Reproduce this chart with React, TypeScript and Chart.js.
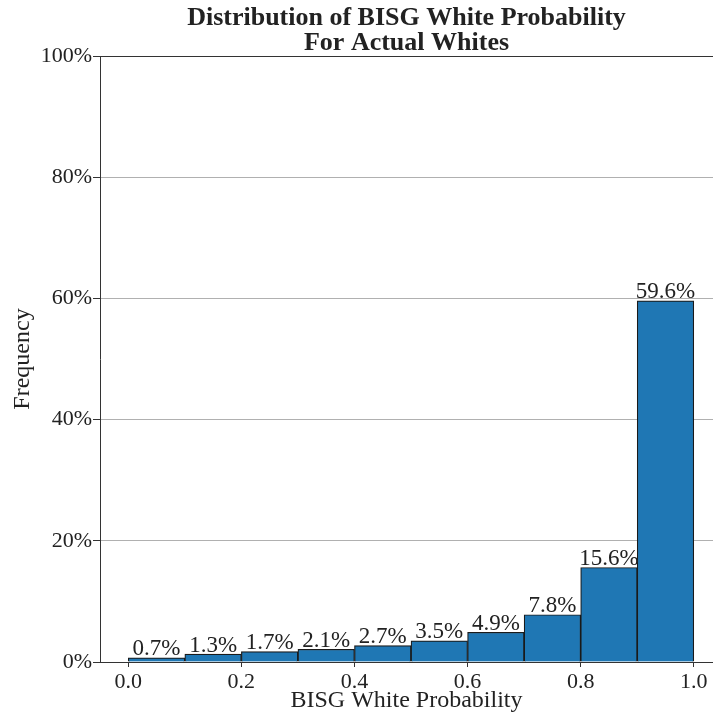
import React, { useEffect, useRef } from "react";
import { Chart, registerables } from "chart.js";

Chart.register(...registerables);

const binStarts = [0.0, 0.1, 0.2, 0.3, 0.4, 0.5, 0.6, 0.7, 0.8, 0.9];
const binWidth = 0.1;
const frequencies = [0.7, 1.3, 1.7, 2.1, 2.7, 3.5, 4.9, 7.8, 15.6, 59.6];
const xTicks = [0.0, 0.2, 0.4, 0.6, 0.8, 1.0];
const yTicks = [0, 20, 40, 60, 80, 100];
const titleLines = ["Distribution of BISG White Probability", "For Actual Whites"];

const FONT = "'Liberation Serif', 'DejaVu Serif', serif";

export default function App() {
  const ref = useRef<HTMLCanvasElement>(null);

  useEffect(() => {
    if (!ref.current) return;
    const labelPlugin = {
      id: "barLabels",
      afterDatasetsDraw(chart: any) {
        const ctx = chart.ctx;
        const meta = chart.getDatasetMeta(0);
        ctx.save();
        ctx.font = `23px ${FONT}`;
        ctx.fillStyle = "#222";
        ctx.textAlign = "center";
        ctx.textBaseline = "bottom";
        meta.data.forEach((el: any, i: number) => {
          ctx.fillText(frequencies[i].toFixed(1) + "%", el.x, el.y + 3);
        });
        ctx.restore();
      },
      afterDraw(chart: any) {
        const ctx = chart.ctx;
        const { left, right } = chart.chartArea;
        ctx.save();
        ctx.font = `bold 26px ${FONT}`;
        ctx.fillStyle = "#222";
        ctx.textAlign = "center";
        ctx.textBaseline = "middle";
        titleLines.forEach((t, i) => {
          ctx.fillText(t, (left + right) / 2, 18 + i * 25);
        });
        ctx.restore();
      },
    };

    const chart = new Chart(ref.current, {
      type: "bar",
      data: {
        datasets: [
          {
            data: binStarts.map((s, i) => ({ x: s + binWidth / 2, y: frequencies[i] })),
            backgroundColor: "#1f77b4",
            borderColor: "#1a1a1a",
            borderWidth: 1.2,
            barPercentage: 1,
            categoryPercentage: 1,
          },
        ],
      },
      options: {
        animation: false,
        responsive: false,
        maintainAspectRatio: false,
        layout: { padding: { top: 56, left: 0, right: 0, bottom: 0 } },
        plugins: {
          legend: { display: false },
          tooltip: { enabled: false },
          title: { display: false },
        },
        scales: {
          x: {
            type: "linear",
            offset: false,
            min: -0.05,
            max: 1.034,
            afterBuildTicks: (scale: any) => {
              scale.ticks = xTicks.map((v) => ({ value: v }));
            },
            afterFit: (scale: any) => {
              scale.height = 53;
            },
            grid: {
              offset: false,
              drawOnChartArea: false,
              drawTicks: true,
              tickLength: 5,
              tickColor: "#333",
            },
            border: { display: true, color: "#333", width: 1 },
            ticks: {
              color: "#222",
              padding: 2,
              maxRotation: 0,
              font: { family: FONT, size: 22 },
              callback: (v: any) => Number(v).toFixed(1),
            },
            title: {
              display: true,
              text: "BISG White Probability",
              color: "#222",
              font: { family: FONT, size: 24 },
              padding: { top: 0, bottom: 0 },
            },
          },
          y: {
            min: 0,
            max: 100,
            afterBuildTicks: (scale: any) => {
              scale.ticks = yTicks.map((v) => ({ value: v }));
            },
            afterFit: (scale: any) => {
              scale.width = 100;
            },
            grid: {
              color: (c: any) => (c.tick && c.tick.value === 100 ? "#333" : "#b0b0b0"),
              lineWidth: 1,
              drawTicks: true,
              tickLength: 7,
              tickColor: "#333",
            },
            border: { display: true, color: "#333", width: 1 },
            ticks: {
              color: "#222",
              padding: 1,
              font: { family: FONT, size: 22 },
              callback: (v: any) => v + "%",
            },
            title: {
              display: true,
              text: "Frequency",
              color: "#222",
              font: { family: FONT, size: 24 },
              padding: { top: 8, bottom: 0 },
            },
          },
        },
      },
      plugins: [labelPlugin],
    });
    return () => chart.destroy();
  }, []);

  return (
    <div style={{ position: "fixed", left: 0, top: 0, width: 713, height: 715, background: "#fff" }}>
      <canvas ref={ref} width={713} height={715} style={{ width: 713, height: 715, display: "block" }} />
    </div>
  );
}
